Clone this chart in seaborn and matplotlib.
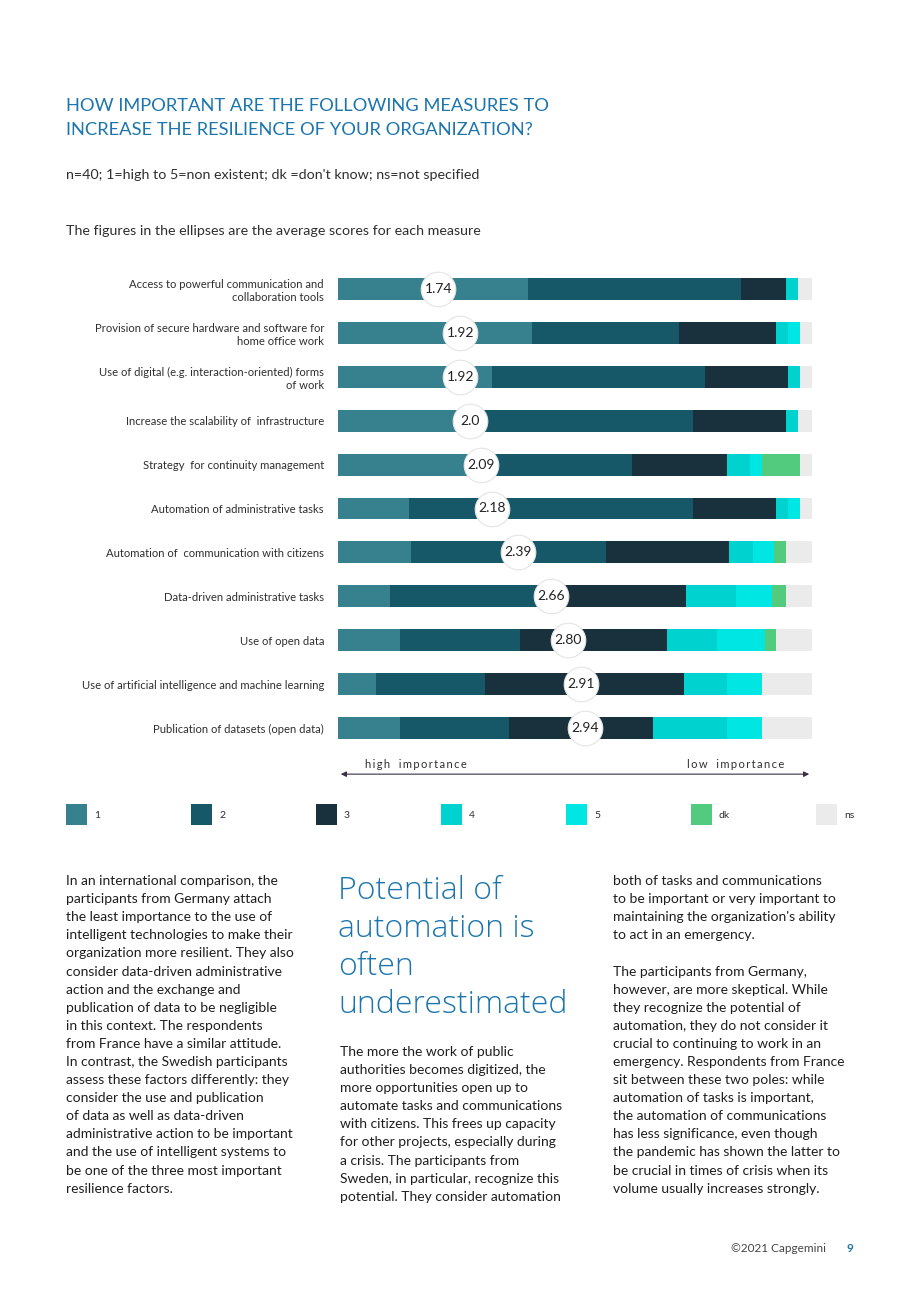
import matplotlib
matplotlib.use("Agg")
import matplotlib.pyplot as plt
from matplotlib.patches import Rectangle
import seaborn as sns
import pandas as pd

# data (shares in % of respondents, n=40)
measures = [
    "Access to powerful communication and\ncollaboration tools",
    "Provision of secure hardware and software for\nhome office work",
    "Use of digital (e.g. interaction-oriented) forms\nof work",
    "Increase the scalability of  infrastructure",
    "Strategy  for continuity management",
    "Automation of administrative tasks",
    "Automation of  communication with citizens",
    "Data-driven administrative tasks",
    "Use of open data",
    "Use of artificial intelligence and machine learning",
    "Publication of datasets (open data)",
]
scores = [1.74, 1.92, 1.92, 2.0, 2.09, 2.18, 2.39, 2.66, 2.80, 2.91, 2.94]
score_labels = ["1.74", "1.92", "1.92", "2.0", "2.09", "2.18", "2.39", "2.66", "2.80", "2.91", "2.94"]
answer_levels = ["1", "2", "3", "4", "5", "dk", "ns"]
share_1 = [40, 41, 32.5, 28, 29.5, 15, 15.5, 11, 13, 8, 13]
share_2 = [45, 31, 45, 47, 32.5, 60, 41, 32.5, 25.5, 23, 23]
share_3 = [9.5, 20.5, 17.5, 19.5, 20, 17.5, 26, 30, 31, 42, 30.5]
share_4 = [2.5, 2.5, 2.5, 2.5, 5, 2.5, 5, 10.5, 10.5, 9, 15.5]
share_5 = [0, 2.5, 0, 0, 2.5, 2.5, 4.5, 7.5, 10, 7.5, 7.5]
share_dk = [0, 0, 0, 0, 8, 0, 2.5, 3, 2.5, 0, 0]
share_ns = [3, 2.5, 2.5, 3, 2.5, 2.5, 5.5, 5.5, 7.5, 10.5, 10.5]
level_colors = ["#37818F", "#175868", "#18313D", "#00D3CF", "#00E6E3", "#53CB7E", "#EBEBEB"]

BLUE = "#1C76AD"
GREY_TEXT = "#2f2f2f"
W, H = 920, 1302

sns.set_theme(style="white")
plt.rcParams["font.family"] = ["Lato", "DejaVu Sans"]

fig = plt.figure(figsize=(W / 100, H / 100), dpi=100)


def fx(px):
    return px / W


def fy(py):
    return 1 - py / H


# header texts
fig.text(fx(66), fy(106), "HOW IMPORTANT ARE THE FOLLOWING MEASURES TO", color=BLUE, fontsize=13.2, va="center")
fig.text(fx(66), fy(130), "INCREASE THE RESILIENCE OF YOUR ORGANIZATION?", color=BLUE, fontsize=13.2, va="center")
fig.text(fx(66), fy(175), "n=40; 1=high to 5=non existent; dk =don't know; ns=not specified",
         color=GREY_TEXT, fontsize=10.3, va="center")
fig.text(fx(66), fy(231), "The figures in the ellipses are the average scores for each measure",
         color=GREY_TEXT, fontsize=10.3, va="center")

# stacked bars: draw cumulative shares from the right end backwards
df = pd.DataFrame({"measure": measures, "1": share_1, "2": share_2, "3": share_3, "4": share_4,
                   "5": share_5, "dk": share_dk, "ns": share_ns})
cum = df[answer_levels].cumsum(axis=1)

ax = fig.add_axes([fx(338), fy(750), 474 / W, 483 / H])
for level, colour in reversed(list(zip(answer_levels, level_colors))):
    sns.barplot(x=cum[level], y=df["measure"], orient="h", color=colour, saturation=1,
                width=0.5, linewidth=0, ax=ax)
ax.set_xlim(0, 100)
ax.set_ylim(10.5, -0.5)
ax.set_xlabel("")
ax.set_ylabel("")
ax.set_xticks([])
ax.tick_params(axis="y", length=0, pad=10)
for lab in ax.get_yticklabels():
    lab.set_fontsize(8.1)
    lab.set_color(GREY_TEXT)
    lab.set_multialignment("right")
sns.despine(ax=ax, left=True, bottom=True)

# average score ellipses on a score scale overlaid on the bars
ax2 = ax.twiny()
ax2.set_xlim(0.918, 4.80)
ax2.scatter(scores, range(len(scores)), s=620, color="white", edgecolors="#e4e4e4",
            linewidths=0.8, zorder=5, clip_on=False)
for s, lab, i in zip(scores, score_labels, range(len(scores))):
    ax2.text(s, i, lab, ha="center", va="center", fontsize=10, color="#222222", zorder=6)
ax2.set_ylim(10.5, -0.5)
ax2.axis("off")

# importance arrow
ax.annotate("", xy=(0, -0.05), xytext=(1, -0.05), xycoords="axes fraction",
            arrowprops=dict(arrowstyle="<|-|>", color="#3b3048", lw=0.8, mutation_scale=8),
            annotation_clip=False)
spaced = lambda s: "   ".join("\u2009".join(word) for word in s.split())
ax.text(0.057, -0.031, spaced("high importance"), transform=ax.transAxes, fontsize=8,
        color=GREY_TEXT, va="center")
ax.text(0.736, -0.031, spaced("low importance"), transform=ax.transAxes, fontsize=8,
        color=GREY_TEXT, va="center")

# legend
for i, (level, colour) in enumerate(zip(answer_levels, level_colors)):
    x0 = 66 + i * 125
    fig.add_artist(Rectangle((fx(x0), fy(825)), 21 / W, 21 / H, transform=fig.transFigure,
                             facecolor=colour, edgecolor="none"))
    fig.text(fx(x0 + 28), fy(815), level, fontsize=7.5, color=GREY_TEXT, va="center")

# body text columns
col1 = [
    "In an international comparison, the",
    "participants from Germany attach",
    "the least importance to the use of",
    "intelligent technologies to make their",
    "organization more resilient. They also",
    "consider data-driven administrative",
    "action and the exchange and",
    "publication of data to be negligible",
    "in this context. The respondents",
    "from France have a similar attitude.",
    "In contrast, the Swedish participants",
    "assess these factors differently: they",
    "consider the use and publication",
    "of data as well as data-driven",
    "administrative action to be important",
    "and the use of intelligent systems to",
    "be one of the three most important",
    "resilience factors.",
]
col2 = [
    "The more the work of public",
    "authorities becomes digitized, the",
    "more opportunities open up to",
    "automate tasks and communications",
    "with citizens. This frees up capacity",
    "for other projects, especially during",
    "a crisis. The participants from",
    "Sweden, in particular, recognize this",
    "potential. They consider automation",
]
col3 = [
    "both of tasks and communications",
    "to be important or very important to",
    "maintaining the organization's ability",
    "to act in an emergency.",
    "",
    "The participants from Germany,",
    "however, are more skeptical. While",
    "they recognize the potential of",
    "automation, they do not consider it",
    "crucial to continuing to work in an",
    "emergency. Respondents from France",
    "sit between these two poles: while",
    "automation of tasks is important,",
    "the automation of communications",
    "has less significance, even though",
    "the pandemic has shown the latter to",
    "be crucial in times of crisis when its",
    "volume usually increases strongly.",
]
heading = ["Potential of", "automation is", "often", "underestimated"]

LINE = 18.1
for x0, y0, lines in [(66, 881, col1), (340, 1052, col2), (613, 881, col3)]:
    for i, line in enumerate(lines):
        fig.text(fx(x0), fy(y0 + i * LINE), line, fontsize=10, color="#1e1e1e", va="center")
for i, line in enumerate(heading):
    fig.text(fx(338), fy(891 + i * 38), line, fontsize=23, color=BLUE, va="center",
             family=["Open Sans", "Lato"], fontweight="light")

# footer
fig.text(fx(826), fy(1248), "\u00a92021 Capgemini", fontsize=8.5, color="#444444", ha="right", va="center")
fig.text(fx(847), fy(1248), "9", fontsize=8.5, color=BLUE, fontweight="bold", va="center")

fig.savefig("out.png", dpi=100, facecolor="white")
